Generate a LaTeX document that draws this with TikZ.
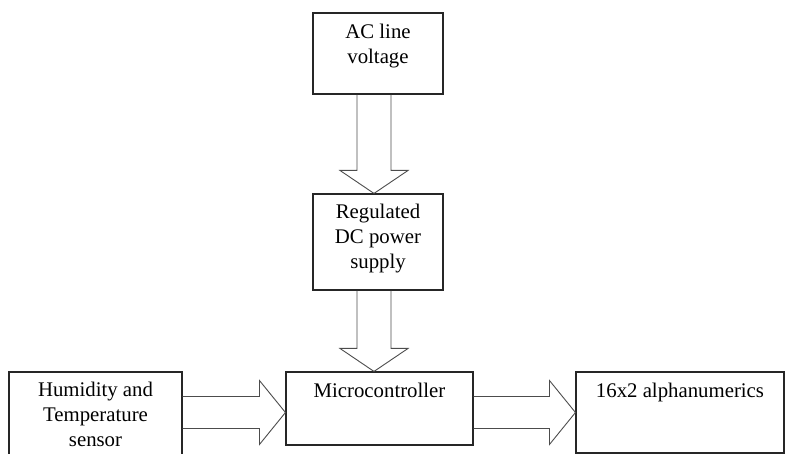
\documentclass[tikz,border=0pt]{standalone}
\usepackage{fontspec}
\setmainfont{Liberation Serif}
\tikzset{
	blk/.style={draw=black!85,line width=1.1pt,inner sep=0pt},
	txt/.style={anchor=base,align=center,inner sep=0pt,font=\fontsize{20.8}{25}\selectfont},
	arw/.style={draw=black!70,line width=0.9pt,line join=miter}
}
\begin{document}
\begin{tikzpicture}[x=1pt,y=-1pt]
	\clip (0,0) rectangle (785,454);
	\def\downblk(#1,#2){\draw[arw] ([xshift=-17pt]#1) -- ([xshift=-17pt,yshift=23pt]#2)
		-- ([xshift=-34pt,yshift=23pt]#2) -- (#2) -- ([xshift=34pt,yshift=23pt]#2)
		-- ([xshift=17pt,yshift=23pt]#2) -- ([xshift=17pt]#1);}
	\def\rightblk(#1,#2){\draw[arw] ([yshift=16pt]#1) -- ([xshift=-26pt,yshift=16pt]#2)
		-- ([xshift=-26pt,yshift=32pt]#2) -- (#2) -- ([xshift=-26pt,yshift=-32pt]#2)
		-- ([xshift=-26pt,yshift=-16pt]#2) -- ([yshift=-16pt]#1);}
	% boxes
	\node[blk,minimum width=130,minimum height=81] (ac) at (378,53.5) {};
	\node[blk,minimum width=130,minimum height=96] (reg) at (378,242) {};
	\node[blk,minimum width=187,minimum height=73] (mcu) at (379.5,408.5) {};
	\node[blk,minimum width=208,minimum height=81] (lcd) at (680,412.5) {};
	\node[blk,minimum width=173,minimum height=100] (sens) at (95.5,422) {};
	% texts (base = last line)
	\node[txt] (actxt) at ([yshift=-51pt]ac.north) {AC line\\voltage};
	\node[txt] (regtxt) at ([yshift=-75pt]reg.north) {Regulated\\DC power\\supply};
	\node[txt] (mcutxt) at ([yshift=-26pt]mcu.north) {Microcontroller};
	\node[txt] (lcdtxt) at ([yshift=-26pt]lcd.north) {16x2 alphanumerics};
	\node[txt] (senstxt) at ([yshift=-75pt]sens.north) {Humidity and\\Temperature\\sensor};
	%===========================================
	\coordinate (mid) at (374,0);
	\coordinate (a1) at (mid |- ac.south);
	\coordinate (r1) at (mid |- reg.north);
	\coordinate (r2) at (mid |- reg.south);
	\coordinate (m0) at (mid |- mcu.north);
	\coordinate (s1) at (sens.east |- lcd.west);
	\coordinate (m1) at (mcu.west |- lcd.west);
	\coordinate (m2) at (mcu.east |- lcd.west);
	\downblk(a1,r1)
	\downblk(r2,m0)
	\rightblk(s1,m1)
	\rightblk(m2,lcd.west)
\end{tikzpicture}
\end{document}
